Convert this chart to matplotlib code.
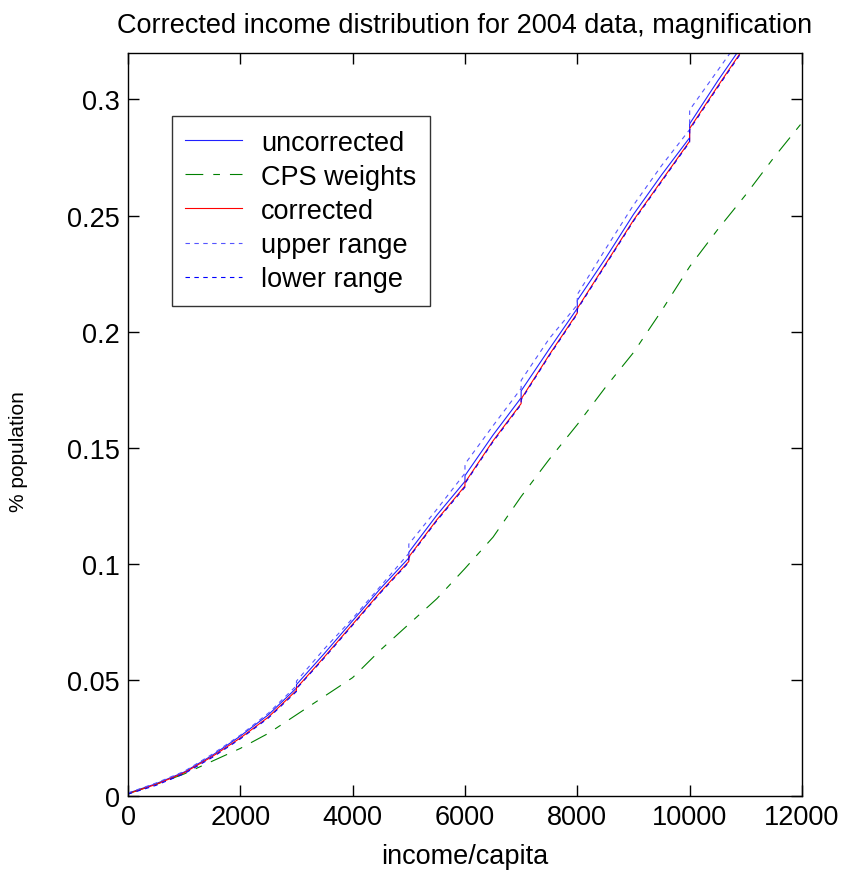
import matplotlib
matplotlib.use("Agg")
import matplotlib.pyplot as plt

plt.rcParams['font.family'] = ['Liberation Sans', 'DejaVu Sans']

# ---- data ----
inc = [0, 500, 1000, 1500, 2000, 2500, 2999, 3000, 3500, 4000, 4500, 4999, 5000,
       5500, 5999, 6000, 6500, 6999, 7000, 7500, 7999, 8000, 8500, 9000, 9500,
       9999, 10000, 10500, 11000]
corrected = [0.001, 0.005, 0.0100, 0.0170, 0.0250, 0.0340, 0.0455, 0.0465, 0.0600,
             0.0740, 0.0880, 0.1010, 0.1030, 0.1190, 0.1335, 0.1350, 0.1530, 0.1690,
             0.1710, 0.1900, 0.2080, 0.2100, 0.2290, 0.2480, 0.2650, 0.2820, 0.2875,
             0.3057, 0.3235]
uncorrected = [0.0012, 0.0053, 0.0103, 0.0175, 0.0258, 0.0350, 0.0465, 0.0480, 0.0615,
               0.0755, 0.0895, 0.1025, 0.1050, 0.1210, 0.1355, 0.1380, 0.1555, 0.1715,
               0.1745, 0.1925, 0.2100, 0.2135, 0.2315, 0.2505, 0.2675, 0.2835, 0.2895,
               0.3080, 0.3255]
upper_range = [0.0013, 0.0056, 0.0106, 0.0180, 0.0262, 0.0357, 0.0475, 0.0495, 0.0635,
               0.0765, 0.0905, 0.1045, 0.1085, 0.1235, 0.1390, 0.1430, 0.1595, 0.1755,
               0.1790, 0.1970, 0.2115, 0.2160, 0.2355, 0.2545, 0.2715, 0.2870, 0.2955,
               0.3125, 0.3295]
lower_range = [0.0008, 0.0046, 0.0096, 0.0166, 0.0246, 0.0336, 0.0450, 0.0462, 0.0596,
               0.0736, 0.0876, 0.1006, 0.1026, 0.1186, 0.1330, 0.1346, 0.1526, 0.1686,
               0.1706, 0.1896, 0.2076, 0.2096, 0.2286, 0.2476, 0.2646, 0.2816, 0.2870,
               0.3052, 0.3230]

cps_inc = [0, 500, 1000, 1500, 2000, 2500, 3000, 3500, 4000, 4500, 5000, 5500, 6000,
           6500, 7000, 7500, 8000, 8500, 9000, 9500, 10000, 10500, 11000, 11500, 12000]
cps_weights = [0.001, 0.005, 0.0095, 0.0150, 0.0205, 0.0270, 0.0350, 0.0430, 0.0510,
               0.0630, 0.0740, 0.0850, 0.0980, 0.1115, 0.1290, 0.1450, 0.1600, 0.1760,
               0.1910, 0.2090, 0.2280, 0.2440, 0.2590, 0.2750, 0.2900]

xticks = [0, 2000, 4000, 6000, 8000, 10000, 12000]
yticks = [0, 0.05, 0.1, 0.15, 0.2, 0.25, 0.3]
ytick_labels = ['0', '0.05', '0.1', '0.15', '0.2', '0.25', '0.3']

W, H = 846, 878
fig = plt.figure(figsize=(W / 100, H / 100), dpi=100)
ax = fig.add_axes([128 / W, (H - 797) / H, 674 / W, 743 / H])

FS = 19.5
lw = 0.8
ax.plot(inc, uncorrected, color='#2020ff', lw=lw, label='uncorrected')
ax.plot(cps_inc, cps_weights, color='#008000', lw=lw, dashes=(16, 9, 6, 9),
        label='CPS weights')
ax.plot(inc, corrected, color='#ff0000', lw=lw, label='corrected')
ax.plot(inc, upper_range, color='#5555ff', lw=lw, dashes=(4, 4), label='upper range')
ax.plot(inc, lower_range, color='#0000ff', lw=lw, dashes=(4, 4), label='lower range')

ax.set_xlim(0, 12000)
ax.set_ylim(0, 0.32)
ax.set_xticks(xticks)
ax.set_xticklabels([str(t) for t in xticks])
ax.set_yticks(yticks)
ax.set_yticklabels(ytick_labels)
ax.tick_params(direction='in', length=8, width=1, top=True, right=True,
               labelsize=FS, pad=6)
for s in ax.spines.values():
    s.set_linewidth(1.0)

ax.set_title('Corrected income distribution for 2004 data, magnification',
             fontsize=FS, pad=15)
ax.set_xlabel('income/capita', fontsize=FS, labelpad=9)

fig.text(18 / W, 1 - 452 / H, '% population', rotation=90, fontsize=15,
         ha='center', va='center')

leg = ax.legend(loc='upper left', bbox_to_anchor=(0.065, 0.915), borderaxespad=0,
                fontsize=FS, frameon=True, fancybox=False, edgecolor='black',
                handlelength=2.1, handletextpad=0.7, labelspacing=0.3,
                borderpad=0.5)
leg.get_frame().set_linewidth(1.0)

fig.savefig('out.png', dpi=100)
